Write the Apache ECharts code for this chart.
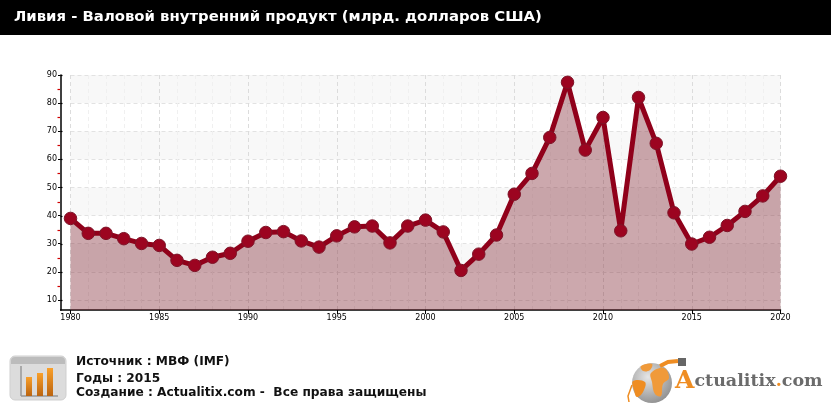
<!DOCTYPE html>
<html><head><meta charset="utf-8">
<style>html,body{margin:0;padding:0;background:#fff}#c{width:831px;height:412px}</style>
<script src="https://cdn.jsdelivr.net/npm/echarts@6/dist/echarts.min.js"></script>
</head><body><div id="c"></div>
<script>
const years=[1980,1981,1982,1983,1984,1985,1986,1987,1988,1989,1990,1991,1992,1993,1994,1995,1996,1997,1998,1999,2000,2001,2002,2003,2004,2005,2006,2007,2008,2009,2010,2011,2012,2013,2014,2015,2016,2017,2018,2019,2020];
const gdp=[39,33.7,33.7,31.8,30.1,29.4,24.1,22.3,25.2,26.6,30.9,34,34.3,31,28.8,32.8,36,36.3,30.3,36.3,38.4,34.2,20.5,26.3,33.1,47.6,55,67.8,87.4,63.3,74.9,34.6,82,65.7,41,29.9,32.3,36.5,41.5,47,54];
const yMajor=[10,20,30,40,50,60,70,80,90];
const yMinor=[15,25,35,45,55,65,75,85];
const titleText='Ливия - Валовой внутренний продукт (млрд. долларов США)';
const footer=['Источник : МВФ (IMF)','Годы : 2015','Создание : Actualitix.com -  Все права защищены'];
const YMIN=6.44,YMAX=90;
const labelFont={fontFamily:'DejaVu Sans',fontSize:8,color:'#000'};
const footStyle=(y,t)=>({type:'text',left:76,top:y,style:{text:t,font:'bold 12.2px "DejaVu Sans"',fill:'#111'}});
const bar=(x,y,h)=>({type:'rect',shape:{x,y,width:6,height:h},style:{fill:new echarts.graphic.LinearGradient(0,0,0,1,[{offset:0,color:'#f9a02a'},{offset:1,color:'#bb6410'}])}});
const blob=(pts,c)=>({type:'polygon',shape:{points:pts,smooth:0.4},style:{fill:c||'#ef8d22'}});
const tickSeries=(vals,from,to,color)=>({type:'custom',silent:true,clip:false,z:6,data:vals.map(v=>[1980,v]),
  encode:{x:0,y:1},
  renderItem:(p,api)=>{const c=api.coord([api.value(0),api.value(1)]);const y=Math.round(c[1])+0.5;
    return {type:'line',shape:{x1:c[0]-from,y1:y,x2:c[0]-to,y2:y},style:{stroke:color,lineWidth:1.2}};}});
const chart=echarts.init(document.getElementById('c'),null,{renderer:'canvas'});
chart.setOption({
 animation:false,backgroundColor:'#fff',
 grid:{left:70.5,right:50.5,top:75,height:235,containLabel:false},
 xAxis:{type:'value',min:1980,max:2020,interval:5,
  axisLine:{show:true,onZero:false,lineStyle:{color:'#000',width:1.5}},
  axisTick:{show:true,length:4,lineStyle:{color:'#000'}},
  minorTick:{show:false,splitNumber:5},
  axisLabel:{...labelFont,margin:4,formatter:v=>String(v),hideOverlap:false,showMinLabel:true,showMaxLabel:true},
  splitLine:{show:true,lineStyle:{color:'#dcdcdc',type:[4,3],width:1}},
  minorSplitLine:{show:true,lineStyle:{color:'#f0f0f0',type:[4,3],width:1}}},
 yAxis:{type:'value',min:YMIN,max:YMAX,offset:10,
   axisLine:{show:true,onZero:false,lineStyle:{color:'#000',width:1.5}},
   axisTick:{show:true,length:2.5,customValues:yMajor,lineStyle:{color:'#000'}},
   axisLabel:{...labelFont,margin:3.5,customValues:yMajor,formatter:v=>String(v)},
   splitArea:{show:true,areaStyle:{color:['#ffffff','#f8f8f8']}},
   splitLine:{show:true,lineStyle:{color:'#e2e2e2',type:[4,3],width:1}}},
 series:[
  tickSeries(yMinor,13,10.5,'#d00000'),
  tickSeries(yMajor,10,8,'#000'),
  {type:'line',data:years.map((y,i)=>[y,gdp[i]]),z:5,
  symbol:'circle',symbolSize:12.5,showSymbol:true,
  lineStyle:{color:'#90001a',width:5,join:'round'},
  itemStyle:{color:'#9c0420',borderColor:'#7d1428',borderWidth:1},
  areaStyle:{color:'#852f3c',opacity:0.42,origin:'start'}}],
 graphic:[
  {type:'rect',shape:{x:0,y:0,width:831,height:35},style:{fill:'#000'},z:10},
  {type:'text',left:14,top:10,z:11,style:{text:titleText,font:'bold 14.85px "DejaVu Sans"',fill:'#fff'}},
  {type:'line',shape:{x1:60,y1:310,x2:71,y2:310},style:{stroke:'#000',lineWidth:1.5}},
  footStyle(356,footer[0]),footStyle(373,footer[1]),footStyle(387,footer[2]),
  {type:'rect',shape:{x:10,y:356,width:56,height:44,r:5},style:{fill:'#dcdcdc',stroke:'#cfcfcf'}},
  {type:'rect',shape:{x:11,y:357,width:54,height:7,r:[4,4,0,0]},style:{fill:'#bcbcbc'}},
  {type:'line',shape:{x1:21,y1:366,x2:21,y2:396},style:{stroke:'#999',lineWidth:1.5}},
  {type:'line',shape:{x1:21,y1:396,x2:58,y2:396},style:{stroke:'#999',lineWidth:1.5}},
  bar(26,377,19),bar(37,373,23),bar(47,368,28),
  {type:'circle',shape:{cx:652,cy:383,r:20},style:{fill:new echarts.graphic.RadialGradient(0.4,0.35,0.7,[{offset:0,color:'#e6e6e6'},{offset:1,color:'#8f8f8f'}])}},
  blob([[633,381],[645,382],[643,392],[637,397],[634,390]]),
  blob([[651,373],[664,368],[669,378],[663,384],[661,396],[655,394],[652,382]],'#f09a3a'),
  blob([[641,366],[652,364],[650,370],[643,371]],'#f09a3a'),
  {type:'polyline',shape:{points:[[660,366],[668,362],[678,361]]},style:{stroke:'#ef8d22',lineWidth:4,fill:'none'}},
  {type:'rect',shape:{x:678,y:358,width:8,height:8},style:{fill:'#666'}},
  {type:'polyline',shape:{points:[[632,385],[628,396],[629,402]]},style:{stroke:'#ef8d22',lineWidth:1.5,fill:'none'}},
  {type:'text',left:675,top:369,style:{rich:{
     a:{fontFamily:'DejaVu Serif',fontSize:25,fontWeight:'bold',fill:'#ef8d22'},
     b:{fontFamily:'DejaVu Serif',fontSize:17.5,fontWeight:'bold',fill:'#6b6b6b'},
     c:{fontFamily:'DejaVu Serif',fontSize:17.5,fontWeight:'bold',fill:'#ef8d22'}},
     text:'{a|A}{b|ctualitix}{c|.}{b|com}'}}
 ]
});
</script></body></html>
